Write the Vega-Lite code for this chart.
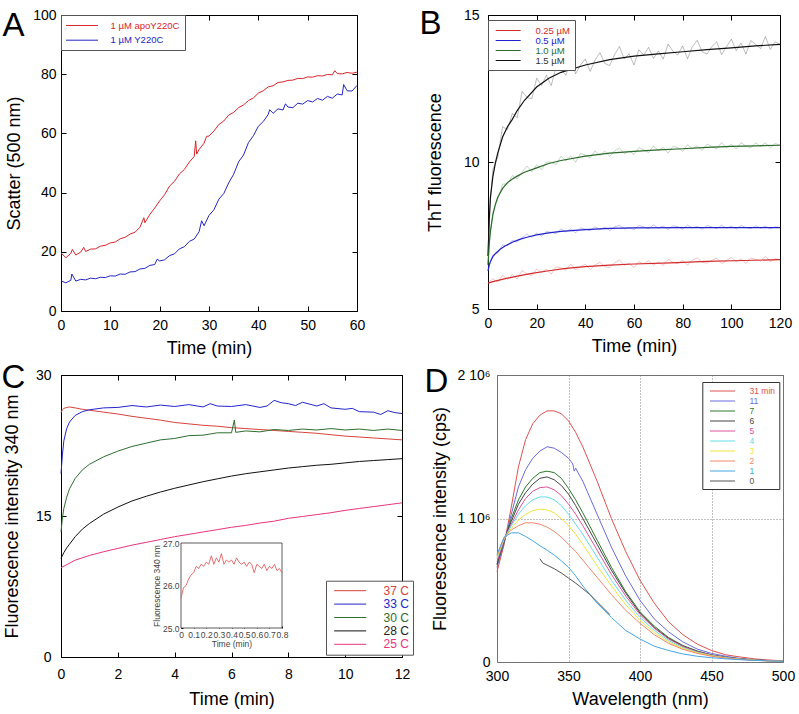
{
"$schema": "https://vega.github.io/schema/vega-lite/v6.json",
"background": "white",
"padding": {"left": 0, "top": 6, "right": 0, "bottom": 0},
"spacing": 2,
"resolve": {"scale": {"color": "independent"}},
"datasets": {
"a": [
{"s":"1 µM apoY220C","t":0,"v":19.6},{"s":"1 µM apoY220C","t":1,"v":18.0},{"s":"1 µM apoY220C","t":2,"v":19.5},{"s":"1 µM apoY220C","t":2.3,"v":20.8},{"s":"1 µM apoY220C","t":3,"v":18.9},{"s":"1 µM apoY220C","t":4,"v":19.9},{"s":"1 µM apoY220C","t":4.6,"v":21.5},{"s":"1 µM apoY220C","t":5,"v":20.1},{"s":"1 µM apoY220C","t":6,"v":20.9},{"s":"1 µM apoY220C","t":7,"v":21.0},{"s":"1 µM apoY220C","t":8,"v":21.9},{"s":"1 µM apoY220C","t":9,"v":22.2},{"s":"1 µM apoY220C","t":10,"v":23.0},{"s":"1 µM apoY220C","t":11,"v":23.3},{"s":"1 µM apoY220C","t":12,"v":24.4},{"s":"1 µM apoY220C","t":13,"v":24.9},{"s":"1 µM apoY220C","t":14,"v":26.0},{"s":"1 µM apoY220C","t":15,"v":26.6},{"s":"1 µM apoY220C","t":16,"v":28.3},{"s":"1 µM apoY220C","t":16.8,"v":31.5},{"s":"1 µM apoY220C","t":17,"v":29.8},{"s":"1 µM apoY220C","t":18,"v":32.6},{"s":"1 µM apoY220C","t":19,"v":34.8},{"s":"1 µM apoY220C","t":20,"v":37.2},{"s":"1 µM apoY220C","t":21,"v":39.3},{"s":"1 µM apoY220C","t":22,"v":42.2},{"s":"1 µM apoY220C","t":23,"v":43.8},{"s":"1 µM apoY220C","t":24,"v":46.3},{"s":"1 µM apoY220C","t":25,"v":47.8},{"s":"1 µM apoY220C","t":26,"v":50.3},{"s":"1 µM apoY220C","t":27,"v":52.2},{"s":"1 µM apoY220C","t":27.3,"v":57.5},{"s":"1 µM apoY220C","t":27.5,"v":53.0},{"s":"1 µM apoY220C","t":28,"v":54.6},{"s":"1 µM apoY220C","t":29,"v":56.7},{"s":"1 µM apoY220C","t":29.5,"v":59.0},{"s":"1 µM apoY220C","t":30,"v":59.1},{"s":"1 µM apoY220C","t":31,"v":60.8},{"s":"1 µM apoY220C","t":32,"v":63.0},{"s":"1 µM apoY220C","t":33,"v":64.2},{"s":"1 µM apoY220C","t":34,"v":66.2},{"s":"1 µM apoY220C","t":35,"v":67.1},{"s":"1 µM apoY220C","t":36,"v":68.7},{"s":"1 µM apoY220C","t":37,"v":69.6},{"s":"1 µM apoY220C","t":38,"v":71.1},{"s":"1 µM apoY220C","t":39,"v":72.0},{"s":"1 µM apoY220C","t":40,"v":73.6},{"s":"1 µM apoY220C","t":41,"v":74.4},{"s":"1 µM apoY220C","t":42,"v":75.7},{"s":"1 µM apoY220C","t":43,"v":76.1},{"s":"1 µM apoY220C","t":44,"v":77.2},{"s":"1 µM apoY220C","t":45,"v":77.4},{"s":"1 µM apoY220C","t":46,"v":77.9},{"s":"1 µM apoY220C","t":47,"v":78.0},{"s":"1 µM apoY220C","t":48,"v":78.6},{"s":"1 µM apoY220C","t":49,"v":78.5},{"s":"1 µM apoY220C","t":50,"v":79.1},{"s":"1 µM apoY220C","t":51,"v":79.0},{"s":"1 µM apoY220C","t":52,"v":79.5},{"s":"1 µM apoY220C","t":53,"v":79.4},{"s":"1 µM apoY220C","t":54,"v":79.9},{"s":"1 µM apoY220C","t":55,"v":79.8},{"s":"1 µM apoY220C","t":55.5,"v":81.2},{"s":"1 µM apoY220C","t":56,"v":80.2},{"s":"1 µM apoY220C","t":57,"v":80.1},{"s":"1 µM apoY220C","t":58,"v":80.6},{"s":"1 µM apoY220C","t":59,"v":80.3},{"s":"1 µM apoY220C","t":60,"v":80.7},
{"s":"1 µM Y220C","t":0,"v":10.2},{"s":"1 µM Y220C","t":1,"v":9.5},{"s":"1 µM Y220C","t":2,"v":10.4},{"s":"1 µM Y220C","t":2.2,"v":12.5},{"s":"1 µM Y220C","t":3,"v":10.1},{"s":"1 µM Y220C","t":4,"v":10.7},{"s":"1 µM Y220C","t":5,"v":10.5},{"s":"1 µM Y220C","t":6,"v":11.1},{"s":"1 µM Y220C","t":7,"v":10.9},{"s":"1 µM Y220C","t":8,"v":11.4},{"s":"1 µM Y220C","t":9,"v":11.3},{"s":"1 µM Y220C","t":10,"v":11.9},{"s":"1 µM Y220C","t":11,"v":11.8},{"s":"1 µM Y220C","t":12,"v":12.5},{"s":"1 µM Y220C","t":13,"v":12.4},{"s":"1 µM Y220C","t":14,"v":13.2},{"s":"1 µM Y220C","t":15,"v":13.3},{"s":"1 µM Y220C","t":16,"v":14.2},{"s":"1 µM Y220C","t":17,"v":14.4},{"s":"1 µM Y220C","t":18,"v":15.4},{"s":"1 µM Y220C","t":19,"v":15.7},{"s":"1 µM Y220C","t":19.5,"v":17.5},{"s":"1 µM Y220C","t":20,"v":16.9},{"s":"1 µM Y220C","t":21,"v":17.3},{"s":"1 µM Y220C","t":22,"v":18.7},{"s":"1 µM Y220C","t":23,"v":19.3},{"s":"1 µM Y220C","t":24,"v":21.0},{"s":"1 µM Y220C","t":25,"v":21.7},{"s":"1 µM Y220C","t":26,"v":23.5},{"s":"1 µM Y220C","t":27,"v":24.3},{"s":"1 µM Y220C","t":28,"v":26.8},{"s":"1 µM Y220C","t":28.5,"v":30.5},{"s":"1 µM Y220C","t":29,"v":28.8},{"s":"1 µM Y220C","t":30,"v":32.3},{"s":"1 µM Y220C","t":31,"v":34.2},{"s":"1 µM Y220C","t":32,"v":37.8},{"s":"1 µM Y220C","t":33,"v":39.7},{"s":"1 µM Y220C","t":34,"v":43.3},{"s":"1 µM Y220C","t":35,"v":46.2},{"s":"1 µM Y220C","t":36,"v":50.4},{"s":"1 µM Y220C","t":37,"v":52.7},{"s":"1 µM Y220C","t":38,"v":56.9},{"s":"1 µM Y220C","t":39,"v":59.2},{"s":"1 µM Y220C","t":40,"v":62.4},{"s":"1 µM Y220C","t":41,"v":64.0},{"s":"1 µM Y220C","t":42,"v":66.4},{"s":"1 µM Y220C","t":42.3,"v":68.0},{"s":"1 µM Y220C","t":43,"v":66.8},{"s":"1 µM Y220C","t":44,"v":68.3},{"s":"1 µM Y220C","t":45,"v":67.9},{"s":"1 µM Y220C","t":45.5,"v":70.0},{"s":"1 µM Y220C","t":46,"v":68.9},{"s":"1 µM Y220C","t":47,"v":68.7},{"s":"1 µM Y220C","t":48,"v":70.2},{"s":"1 µM Y220C","t":49,"v":69.9},{"s":"1 µM Y220C","t":50,"v":71.1},{"s":"1 µM Y220C","t":51,"v":70.6},{"s":"1 µM Y220C","t":52,"v":71.8},{"s":"1 µM Y220C","t":53,"v":71.2},{"s":"1 µM Y220C","t":54,"v":72.5},{"s":"1 µM Y220C","t":55,"v":71.9},{"s":"1 µM Y220C","t":56,"v":73.3},{"s":"1 µM Y220C","t":57,"v":73.0},{"s":"1 µM Y220C","t":57.3,"v":76.5},{"s":"1 µM Y220C","t":58,"v":74.4},{"s":"1 µM Y220C","t":59,"v":74.3},{"s":"1 µM Y220C","t":60,"v":76.2}
],
"bn": [
{"s":"1.5 µM","t":0,"v":6.8},{"s":"1.5 µM","t":0.5,"v":8.1},{"s":"1.5 µM","t":1,"v":8.7},{"s":"1.5 µM","t":2,"v":9.75},{"s":"1.5 µM","t":4,"v":10.15},{"s":"1.5 µM","t":6,"v":11.2},{"s":"1.5 µM","t":8,"v":11.1},{"s":"1.5 µM","t":10,"v":11.65},{"s":"1.5 µM","t":12,"v":11.5},{"s":"1.5 µM","t":14,"v":12.4},{"s":"1.5 µM","t":16,"v":12.2},{"s":"1.5 µM","t":18,"v":12.15},{"s":"1.5 µM","t":20,"v":12.85},{"s":"1.5 µM","t":22,"v":12.6},{"s":"1.5 µM","t":24,"v":12.95},{"s":"1.5 µM","t":26,"v":12.6},{"s":"1.5 µM","t":28,"v":13.25},{"s":"1.5 µM","t":30,"v":13.15},{"s":"1.5 µM","t":32,"v":12.95},{"s":"1.5 µM","t":34,"v":13.5},{"s":"1.5 µM","t":36,"v":13.0},{"s":"1.5 µM","t":38,"v":13.3},{"s":"1.5 µM","t":40,"v":13.5},{"s":"1.5 µM","t":42,"v":13.08},{"s":"1.5 µM","t":44,"v":13.47},{"s":"1.5 µM","t":46,"v":13.72},{"s":"1.5 µM","t":48,"v":13.35},{"s":"1.5 µM","t":50,"v":13.28},{"s":"1.5 µM","t":52,"v":13.65},{"s":"1.5 µM","t":54,"v":13.93},{"s":"1.5 µM","t":56,"v":13.5},{"s":"1.5 µM","t":58,"v":13.68},{"s":"1.5 µM","t":60,"v":13.3},{"s":"1.5 µM","t":62,"v":13.82},{"s":"1.5 µM","t":64,"v":13.63},{"s":"1.5 µM","t":66,"v":13.9},{"s":"1.5 µM","t":68,"v":13.52},{"s":"1.5 µM","t":70,"v":13.78},{"s":"1.5 µM","t":72,"v":13.5},{"s":"1.5 µM","t":74,"v":14.01},{"s":"1.5 µM","t":76,"v":13.77},{"s":"1.5 µM","t":78,"v":13.64},{"s":"1.5 µM","t":80,"v":13.95},{"s":"1.5 µM","t":82,"v":13.51},{"s":"1.5 µM","t":84,"v":13.93},{"s":"1.5 µM","t":86,"v":14.14},{"s":"1.5 µM","t":88,"v":13.75},{"s":"1.5 µM","t":90,"v":13.67},{"s":"1.5 µM","t":92,"v":13.93},{"s":"1.5 µM","t":94,"v":14.09},{"s":"1.5 µM","t":96,"v":13.65},{"s":"1.5 µM","t":98,"v":13.92},{"s":"1.5 µM","t":100,"v":14.18},{"s":"1.5 µM","t":102,"v":13.79},{"s":"1.5 µM","t":104,"v":14.05},{"s":"1.5 µM","t":106,"v":13.67},{"s":"1.5 µM","t":108,"v":14.13},{"s":"1.5 µM","t":110,"v":14.0},{"s":"1.5 µM","t":112,"v":13.86},{"s":"1.5 µM","t":114,"v":14.27},{"s":"1.5 µM","t":116,"v":13.83},{"s":"1.5 µM","t":118,"v":14.09},{"s":"1.5 µM","t":120,"v":14.0},
{"s":"1.0 µM","t":0,"v":6.5},{"s":"1.0 µM","t":0.5,"v":7.25},{"s":"1.0 µM","t":1,"v":7.6},{"s":"1.0 µM","t":2,"v":8.3},{"s":"1.0 µM","t":4,"v":8.72},{"s":"1.0 µM","t":6,"v":9.25},{"s":"1.0 µM","t":8,"v":9.25},{"s":"1.0 µM","t":10,"v":9.54},{"s":"1.0 µM","t":12,"v":9.42},{"s":"1.0 µM","t":14,"v":9.66},{"s":"1.0 µM","t":16,"v":9.86},{"s":"1.0 µM","t":18,"v":9.67},{"s":"1.0 µM","t":20,"v":9.9},{"s":"1.0 µM","t":22,"v":9.74},{"s":"1.0 µM","t":24,"v":10.0},{"s":"1.0 µM","t":26,"v":9.99},{"s":"1.0 µM","t":28,"v":9.91},{"s":"1.0 µM","t":30,"v":10.2},{"s":"1.0 µM","t":32,"v":10.03},{"s":"1.0 µM","t":34,"v":10.21},{"s":"1.0 µM","t":36,"v":9.99},{"s":"1.0 µM","t":38,"v":10.29},{"s":"1.0 µM","t":40,"v":10.23},{"s":"1.0 µM","t":42,"v":10.14},{"s":"1.0 µM","t":44,"v":10.38},{"s":"1.0 µM","t":46,"v":10.22},{"s":"1.0 µM","t":48,"v":10.37},{"s":"1.0 µM","t":50,"v":10.19},{"s":"1.0 µM","t":52,"v":10.37},{"s":"1.0 µM","t":54,"v":10.48},{"s":"1.0 µM","t":56,"v":10.28},{"s":"1.0 µM","t":58,"v":10.37},{"s":"1.0 µM","t":60,"v":10.26},{"s":"1.0 µM","t":62,"v":10.49},{"s":"1.0 µM","t":64,"v":10.42},{"s":"1.0 µM","t":66,"v":10.32},{"s":"1.0 µM","t":68,"v":10.55},{"s":"1.0 µM","t":70,"v":10.38},{"s":"1.0 µM","t":72,"v":10.5},{"s":"1.0 µM","t":74,"v":10.3},{"s":"1.0 µM","t":76,"v":10.53},{"s":"1.0 µM","t":78,"v":10.49},{"s":"1.0 µM","t":80,"v":10.36},{"s":"1.0 µM","t":82,"v":10.59},{"s":"1.0 µM","t":84,"v":10.45},{"s":"1.0 µM","t":86,"v":10.55},{"s":"1.0 µM","t":88,"v":10.39},{"s":"1.0 µM","t":90,"v":10.61},{"s":"1.0 µM","t":92,"v":10.53},{"s":"1.0 µM","t":94,"v":10.45},{"s":"1.0 µM","t":96,"v":10.66},{"s":"1.0 µM","t":98,"v":10.48},{"s":"1.0 µM","t":100,"v":10.61},{"s":"1.0 µM","t":102,"v":10.44},{"s":"1.0 µM","t":104,"v":10.66},{"s":"1.0 µM","t":106,"v":10.54},{"s":"1.0 µM","t":108,"v":10.48},{"s":"1.0 µM","t":110,"v":10.65},{"s":"1.0 µM","t":112,"v":10.53},{"s":"1.0 µM","t":114,"v":10.65},{"s":"1.0 µM","t":116,"v":10.48},{"s":"1.0 µM","t":118,"v":10.63},{"s":"1.0 µM","t":120,"v":10.57},
{"s":"0.5 µM","t":0,"v":6.3},{"s":"0.5 µM","t":2,"v":6.84},{"s":"0.5 µM","t":4,"v":6.91},{"s":"0.5 µM","t":6,"v":7.18},{"s":"0.5 µM","t":8,"v":7.15},{"s":"0.5 µM","t":10,"v":7.34},{"s":"0.5 µM","t":12,"v":7.28},{"s":"0.5 µM","t":14,"v":7.43},{"s":"0.5 µM","t":16,"v":7.55},{"s":"0.5 µM","t":18,"v":7.44},{"s":"0.5 µM","t":20,"v":7.58},{"s":"0.5 µM","t":22,"v":7.48},{"s":"0.5 µM","t":24,"v":7.63},{"s":"0.5 µM","t":26,"v":7.61},{"s":"0.5 µM","t":28,"v":7.56},{"s":"0.5 µM","t":30,"v":7.73},{"s":"0.5 µM","t":32,"v":7.62},{"s":"0.5 µM","t":34,"v":7.73},{"s":"0.5 µM","t":36,"v":7.59},{"s":"0.5 µM","t":38,"v":7.76},{"s":"0.5 µM","t":40,"v":7.72},{"s":"0.5 µM","t":42,"v":7.66},{"s":"0.5 µM","t":44,"v":7.8},{"s":"0.5 µM","t":46,"v":7.7},{"s":"0.5 µM","t":48,"v":7.79},{"s":"0.5 µM","t":50,"v":7.67},{"s":"0.5 µM","t":52,"v":7.79},{"s":"0.5 µM","t":54,"v":7.85},{"s":"0.5 µM","t":56,"v":7.72},{"s":"0.5 µM","t":58,"v":7.77},{"s":"0.5 µM","t":60,"v":7.7},{"s":"0.5 µM","t":62,"v":7.84},{"s":"0.5 µM","t":64,"v":7.79},{"s":"0.5 µM","t":66,"v":7.73},{"s":"0.5 µM","t":68,"v":7.86},{"s":"0.5 µM","t":70,"v":7.75},{"s":"0.5 µM","t":72,"v":7.82},{"s":"0.5 µM","t":74,"v":7.7},{"s":"0.5 µM","t":76,"v":7.83},{"s":"0.5 µM","t":78,"v":7.8},{"s":"0.5 µM","t":80,"v":7.72},{"s":"0.5 µM","t":82,"v":7.85},{"s":"0.5 µM","t":84,"v":7.76},{"s":"0.5 µM","t":86,"v":7.81},{"s":"0.5 µM","t":88,"v":7.71},{"s":"0.5 µM","t":90,"v":7.84},{"s":"0.5 µM","t":92,"v":7.79},{"s":"0.5 µM","t":94,"v":7.73},{"s":"0.5 µM","t":96,"v":7.85},{"s":"0.5 µM","t":98,"v":7.75},{"s":"0.5 µM","t":100,"v":7.82},{"s":"0.5 µM","t":102,"v":7.72},{"s":"0.5 µM","t":104,"v":7.84},{"s":"0.5 µM","t":106,"v":7.77},{"s":"0.5 µM","t":108,"v":7.73},{"s":"0.5 µM","t":110,"v":7.83},{"s":"0.5 µM","t":112,"v":7.75},{"s":"0.5 µM","t":114,"v":7.82},{"s":"0.5 µM","t":116,"v":7.72},{"s":"0.5 µM","t":118,"v":7.8},{"s":"0.5 µM","t":120,"v":7.77},
{"s":"0.25 µM","t":0,"v":5.88},{"s":"0.25 µM","t":2,"v":6.03},{"s":"0.25 µM","t":4,"v":5.91},{"s":"0.25 µM","t":6,"v":6.15},{"s":"0.25 µM","t":8,"v":6.01},{"s":"0.25 µM","t":10,"v":6.17},{"s":"0.25 µM","t":12,"v":6.02},{"s":"0.25 µM","t":14,"v":6.31},{"s":"0.25 µM","t":16,"v":6.2},{"s":"0.25 µM","t":18,"v":6.13},{"s":"0.25 µM","t":20,"v":6.36},{"s":"0.25 µM","t":22,"v":6.25},{"s":"0.25 µM","t":24,"v":6.35},{"s":"0.25 µM","t":26,"v":6.19},{"s":"0.25 µM","t":28,"v":6.44},{"s":"0.25 µM","t":30,"v":6.4},{"s":"0.25 µM","t":32,"v":6.32},{"s":"0.25 µM","t":34,"v":6.53},{"s":"0.25 µM","t":36,"v":6.33},{"s":"0.25 µM","t":38,"v":6.44},{"s":"0.25 µM","t":40,"v":6.52},{"s":"0.25 µM","t":42,"v":6.35},{"s":"0.25 µM","t":44,"v":6.5},{"s":"0.25 µM","t":46,"v":6.59},{"s":"0.25 µM","t":48,"v":6.44},{"s":"0.25 µM","t":50,"v":6.41},{"s":"0.25 µM","t":52,"v":6.56},{"s":"0.25 µM","t":54,"v":6.67},{"s":"0.25 µM","t":56,"v":6.49},{"s":"0.25 µM","t":58,"v":6.56},{"s":"0.25 µM","t":60,"v":6.41},{"s":"0.25 µM","t":62,"v":6.61},{"s":"0.25 µM","t":64,"v":6.54},{"s":"0.25 µM","t":66,"v":6.64},{"s":"0.25 µM","t":68,"v":6.49},{"s":"0.25 µM","t":70,"v":6.6},{"s":"0.25 µM","t":72,"v":6.48},{"s":"0.25 µM","t":74,"v":6.69},{"s":"0.25 µM","t":76,"v":6.59},{"s":"0.25 µM","t":78,"v":6.54},{"s":"0.25 µM","t":80,"v":6.66},{"s":"0.25 µM","t":82,"v":6.49},{"s":"0.25 µM","t":84,"v":6.66},{"s":"0.25 µM","t":86,"v":6.74},{"s":"0.25 µM","t":88,"v":6.59},{"s":"0.25 µM","t":90,"v":6.56},{"s":"0.25 µM","t":92,"v":6.66},{"s":"0.25 µM","t":94,"v":6.73},{"s":"0.25 µM","t":96,"v":6.55},{"s":"0.25 µM","t":98,"v":6.65},{"s":"0.25 µM","t":100,"v":6.76},{"s":"0.25 µM","t":102,"v":6.6},{"s":"0.25 µM","t":104,"v":6.71},{"s":"0.25 µM","t":106,"v":6.55},{"s":"0.25 µM","t":108,"v":6.74},{"s":"0.25 µM","t":110,"v":6.68},{"s":"0.25 µM","t":112,"v":6.63},{"s":"0.25 µM","t":114,"v":6.79},{"s":"0.25 µM","t":116,"v":6.61},{"s":"0.25 µM","t":118,"v":6.71},{"s":"0.25 µM","t":120,"v":6.68}
],
"bf": [
{"s":"1.5 µM","t":0,"v":6.8},{"s":"1.5 µM","t":0.5,"v":8.0},{"s":"1.5 µM","t":1,"v":8.8},{"s":"1.5 µM","t":2,"v":9.5},{"s":"1.5 µM","t":3,"v":9.95},{"s":"1.5 µM","t":4,"v":10.3},{"s":"1.5 µM","t":6,"v":10.85},{"s":"1.5 µM","t":8,"v":11.2},{"s":"1.5 µM","t":10,"v":11.45},{"s":"1.5 µM","t":12,"v":11.75},{"s":"1.5 µM","t":15,"v":12.1},{"s":"1.5 µM","t":20,"v":12.55},{"s":"1.5 µM","t":25,"v":12.85},{"s":"1.5 µM","t":30,"v":13.05},{"s":"1.5 µM","t":40,"v":13.3},{"s":"1.5 µM","t":50,"v":13.48},{"s":"1.5 µM","t":60,"v":13.6},{"s":"1.5 µM","t":70,"v":13.68},{"s":"1.5 µM","t":80,"v":13.75},{"s":"1.5 µM","t":90,"v":13.82},{"s":"1.5 µM","t":100,"v":13.88},{"s":"1.5 µM","t":110,"v":13.95},{"s":"1.5 µM","t":120,"v":14.0},
{"s":"1.0 µM","t":0,"v":6.5},{"s":"1.0 µM","t":0.5,"v":7.2},{"s":"1.0 µM","t":1,"v":7.65},{"s":"1.0 µM","t":2,"v":8.2},{"s":"1.0 µM","t":3,"v":8.55},{"s":"1.0 µM","t":4,"v":8.8},{"s":"1.0 µM","t":6,"v":9.1},{"s":"1.0 µM","t":8,"v":9.3},{"s":"1.0 µM","t":10,"v":9.42},{"s":"1.0 µM","t":12,"v":9.52},{"s":"1.0 µM","t":15,"v":9.65},{"s":"1.0 µM","t":20,"v":9.8},{"s":"1.0 µM","t":25,"v":9.95},{"s":"1.0 µM","t":30,"v":10.05},{"s":"1.0 µM","t":40,"v":10.2},{"s":"1.0 µM","t":50,"v":10.3},{"s":"1.0 µM","t":60,"v":10.36},{"s":"1.0 µM","t":70,"v":10.41},{"s":"1.0 µM","t":80,"v":10.45},{"s":"1.0 µM","t":90,"v":10.5},{"s":"1.0 µM","t":100,"v":10.53},{"s":"1.0 µM","t":110,"v":10.55},{"s":"1.0 µM","t":120,"v":10.57},
{"s":"0.5 µM","t":0,"v":6.3},{"s":"0.5 µM","t":0.5,"v":6.5},{"s":"0.5 µM","t":1,"v":6.62},{"s":"0.5 µM","t":2,"v":6.78},{"s":"0.5 µM","t":3,"v":6.88},{"s":"0.5 µM","t":5,"v":7.03},{"s":"0.5 µM","t":7,"v":7.14},{"s":"0.5 µM","t":10,"v":7.27},{"s":"0.5 µM","t":13,"v":7.37},{"s":"0.5 µM","t":16,"v":7.44},{"s":"0.5 µM","t":20,"v":7.52},{"s":"0.5 µM","t":25,"v":7.59},{"s":"0.5 µM","t":30,"v":7.64},{"s":"0.5 µM","t":40,"v":7.7},{"s":"0.5 µM","t":50,"v":7.74},{"s":"0.5 µM","t":60,"v":7.76},{"s":"0.5 µM","t":80,"v":7.77},{"s":"0.5 µM","t":100,"v":7.77},{"s":"0.5 µM","t":120,"v":7.77},
{"s":"0.25 µM","t":0,"v":5.88},{"s":"0.25 µM","t":2,"v":5.93},{"s":"0.25 µM","t":5,"v":5.99},{"s":"0.25 µM","t":8,"v":6.05},{"s":"0.25 µM","t":12,"v":6.12},{"s":"0.25 µM","t":18,"v":6.21},{"s":"0.25 µM","t":25,"v":6.3},{"s":"0.25 µM","t":32,"v":6.38},{"s":"0.25 µM","t":40,"v":6.44},{"s":"0.25 µM","t":50,"v":6.49},{"s":"0.25 µM","t":60,"v":6.53},{"s":"0.25 µM","t":75,"v":6.57},{"s":"0.25 µM","t":90,"v":6.62},{"s":"0.25 µM","t":105,"v":6.65},{"s":"0.25 µM","t":120,"v":6.68}
],
"c": [
{"s":"37 C","t":0,"v":26.0},{"s":"37 C","t":0.05,"v":26.3},{"s":"37 C","t":0.1,"v":26.45},{"s":"37 C","t":0.2,"v":26.55},{"s":"37 C","t":0.3,"v":26.6},{"s":"37 C","t":0.5,"v":26.5},{"s":"37 C","t":0.75,"v":26.35},{"s":"37 C","t":1,"v":26.25},{"s":"37 C","t":1.5,"v":26.05},{"s":"37 C","t":2,"v":25.85},{"s":"37 C","t":2.5,"v":25.6},{"s":"37 C","t":3,"v":25.4},{"s":"37 C","t":3.5,"v":25.2},{"s":"37 C","t":4,"v":24.95},{"s":"37 C","t":4.5,"v":24.8},{"s":"37 C","t":5,"v":24.65},{"s":"37 C","t":5.5,"v":24.55},{"s":"37 C","t":6,"v":24.4},{"s":"37 C","t":6.5,"v":24.3},{"s":"37 C","t":7,"v":24.2},{"s":"37 C","t":7.5,"v":24.1},{"s":"37 C","t":8,"v":24.0},{"s":"37 C","t":8.5,"v":23.9},{"s":"37 C","t":9,"v":23.8},{"s":"37 C","t":9.5,"v":23.65},{"s":"37 C","t":10,"v":23.5},{"s":"37 C","t":10.5,"v":23.4},{"s":"37 C","t":11,"v":23.3},{"s":"37 C","t":11.5,"v":23.2},{"s":"37 C","t":12,"v":23.1},
{"s":"33 C","t":0,"v":19.5},{"s":"33 C","t":0.05,"v":21.5},{"s":"33 C","t":0.1,"v":23.0},{"s":"33 C","t":0.2,"v":24.3},{"s":"33 C","t":0.3,"v":25.0},{"s":"33 C","t":0.5,"v":25.7},{"s":"33 C","t":0.75,"v":26.1},{"s":"33 C","t":1,"v":26.3},{"s":"33 C","t":1.5,"v":26.5},{"s":"33 C","t":2,"v":26.55},{"s":"33 C","t":2.5,"v":26.75},{"s":"33 C","t":3,"v":26.6},{"s":"33 C","t":3.5,"v":26.8},{"s":"33 C","t":4,"v":26.65},{"s":"33 C","t":4.5,"v":26.85},{"s":"33 C","t":5,"v":26.6},{"s":"33 C","t":5.25,"v":26.95},{"s":"33 C","t":5.5,"v":26.7},{"s":"33 C","t":6,"v":26.65},{"s":"33 C","t":6.5,"v":26.85},{"s":"33 C","t":7,"v":26.55},{"s":"33 C","t":7.25,"v":26.7},{"s":"33 C","t":7.5,"v":27.3},{"s":"33 C","t":7.75,"v":27.05},{"s":"33 C","t":8,"v":26.95},{"s":"33 C","t":8.25,"v":26.75},{"s":"33 C","t":8.5,"v":27.1},{"s":"33 C","t":9,"v":26.7},{"s":"33 C","t":9.25,"v":26.95},{"s":"33 C","t":9.5,"v":26.5},{"s":"33 C","t":10,"v":26.35},{"s":"33 C","t":10.25,"v":26.45},{"s":"33 C","t":10.5,"v":26.1},{"s":"33 C","t":11,"v":26.05},{"s":"33 C","t":11.25,"v":25.8},{"s":"33 C","t":11.5,"v":26.2},{"s":"33 C","t":11.75,"v":26.0},{"s":"33 C","t":12,"v":25.9},
{"s":"30 C","t":0,"v":13.3},{"s":"30 C","t":0.05,"v":14.8},{"s":"30 C","t":0.1,"v":15.8},{"s":"30 C","t":0.2,"v":17.0},{"s":"30 C","t":0.3,"v":17.9},{"s":"30 C","t":0.5,"v":19.0},{"s":"30 C","t":0.75,"v":19.9},{"s":"30 C","t":1,"v":20.5},{"s":"30 C","t":1.5,"v":21.3},{"s":"30 C","t":2,"v":21.9},{"s":"30 C","t":2.5,"v":22.4},{"s":"30 C","t":3,"v":22.75},{"s":"30 C","t":3.5,"v":23.1},{"s":"30 C","t":4,"v":23.25},{"s":"30 C","t":4.5,"v":23.55},{"s":"30 C","t":5,"v":23.6},{"s":"30 C","t":5.5,"v":23.85},{"s":"30 C","t":6,"v":23.85},{"s":"30 C","t":6.1,"v":25.2},{"s":"30 C","t":6.15,"v":23.9},{"s":"30 C","t":6.5,"v":24.05},{"s":"30 C","t":7,"v":23.95},{"s":"30 C","t":7.5,"v":24.2},{"s":"30 C","t":8,"v":24.1},{"s":"30 C","t":8.5,"v":24.25},{"s":"30 C","t":9,"v":24.15},{"s":"30 C","t":9.5,"v":24.3},{"s":"30 C","t":10,"v":24.15},{"s":"30 C","t":10.5,"v":24.25},{"s":"30 C","t":11,"v":24.1},{"s":"30 C","t":11.5,"v":24.25},{"s":"30 C","t":12,"v":24.1},
{"s":"28 C","t":0,"v":10.5},{"s":"28 C","t":0.1,"v":11.1},{"s":"28 C","t":0.2,"v":11.6},{"s":"28 C","t":0.3,"v":12.0},{"s":"28 C","t":0.5,"v":12.8},{"s":"28 C","t":0.75,"v":13.6},{"s":"28 C","t":1,"v":14.2},{"s":"28 C","t":1.5,"v":15.2},{"s":"28 C","t":2,"v":15.95},{"s":"28 C","t":2.5,"v":16.6},{"s":"28 C","t":3,"v":17.1},{"s":"28 C","t":3.5,"v":17.55},{"s":"28 C","t":4,"v":17.95},{"s":"28 C","t":4.5,"v":18.3},{"s":"28 C","t":5,"v":18.65},{"s":"28 C","t":5.5,"v":18.95},{"s":"28 C","t":6,"v":19.25},{"s":"28 C","t":6.5,"v":19.5},{"s":"28 C","t":7,"v":19.7},{"s":"28 C","t":7.5,"v":19.9},{"s":"28 C","t":8,"v":20.1},{"s":"28 C","t":8.5,"v":20.25},{"s":"28 C","t":9,"v":20.4},{"s":"28 C","t":9.5,"v":20.5},{"s":"28 C","t":10,"v":20.65},{"s":"28 C","t":10.5,"v":20.8},{"s":"28 C","t":11,"v":20.9},{"s":"28 C","t":11.5,"v":21.0},{"s":"28 C","t":12,"v":21.1},
{"s":"25 C","t":0,"v":9.5},{"s":"25 C","t":0.5,"v":10.3},{"s":"25 C","t":1,"v":10.8},{"s":"25 C","t":1.5,"v":11.2},{"s":"25 C","t":2,"v":11.55},{"s":"25 C","t":2.5,"v":11.9},{"s":"25 C","t":3,"v":12.2},{"s":"25 C","t":3.5,"v":12.5},{"s":"25 C","t":4,"v":12.8},{"s":"25 C","t":4.5,"v":13.05},{"s":"25 C","t":5,"v":13.3},{"s":"25 C","t":5.5,"v":13.55},{"s":"25 C","t":6,"v":13.8},{"s":"25 C","t":6.5,"v":14.0},{"s":"25 C","t":7,"v":14.25},{"s":"25 C","t":7.5,"v":14.45},{"s":"25 C","t":8,"v":14.75},{"s":"25 C","t":8.5,"v":14.95},{"s":"25 C","t":9,"v":15.15},{"s":"25 C","t":9.5,"v":15.35},{"s":"25 C","t":10,"v":15.6},{"s":"25 C","t":10.5,"v":15.8},{"s":"25 C","t":11,"v":16.0},{"s":"25 C","t":11.5,"v":16.2},{"s":"25 C","t":12,"v":16.4}
],
"ci": [
{"t":0,"v":25.7},{"t":0.02,"v":25.95},{"t":0.04,"v":26.0},{"t":0.06,"v":26.15},{"t":0.08,"v":26.25},{"t":0.1,"v":26.3},{"t":0.12,"v":26.45},{"t":0.14,"v":26.4},{"t":0.16,"v":26.5},{"t":0.18,"v":26.45},{"t":0.2,"v":26.55},{"t":0.22,"v":26.5},{"t":0.24,"v":26.7},{"t":0.26,"v":26.5},{"t":0.28,"v":26.65},{"t":0.3,"v":26.55},{"t":0.32,"v":26.75},{"t":0.34,"v":26.5},{"t":0.36,"v":26.6},{"t":0.38,"v":26.55},{"t":0.4,"v":26.6},{"t":0.42,"v":26.5},{"t":0.44,"v":26.65},{"t":0.46,"v":26.55},{"t":0.48,"v":26.5},{"t":0.5,"v":26.55},{"t":0.52,"v":26.45},{"t":0.54,"v":26.55},{"t":0.56,"v":26.5},{"t":0.58,"v":26.3},{"t":0.6,"v":26.5},{"t":0.62,"v":26.45},{"t":0.64,"v":26.4},{"t":0.66,"v":26.5},{"t":0.68,"v":26.35},{"t":0.7,"v":26.45},{"t":0.72,"v":26.4},{"t":0.74,"v":26.5},{"t":0.76,"v":26.35},{"t":0.78,"v":26.4},{"t":0.8,"v":26.3}
],
"cfr": [{"x0":0,"x1":0.8,"y0":25,"y1":27}],
"d": [
{"s":"31 min","w":300,"v":0.63},{"s":"31 min","w":305,"v":0.82},{"s":"31 min","w":310,"v":1.08},{"s":"31 min","w":315,"v":1.36},{"s":"31 min","w":320,"v":1.55},{"s":"31 min","w":325,"v":1.66},{"s":"31 min","w":330,"v":1.72},{"s":"31 min","w":335,"v":1.75},{"s":"31 min","w":340,"v":1.75},{"s":"31 min","w":345,"v":1.73},{"s":"31 min","w":350,"v":1.68},{"s":"31 min","w":355,"v":1.6},{"s":"31 min","w":360,"v":1.5},{"s":"31 min","w":370,"v":1.26},{"s":"31 min","w":380,"v":1.0},{"s":"31 min","w":390,"v":0.77},{"s":"31 min","w":400,"v":0.57},{"s":"31 min","w":410,"v":0.41},{"s":"31 min","w":420,"v":0.28},{"s":"31 min","w":430,"v":0.19},{"s":"31 min","w":440,"v":0.125},{"s":"31 min","w":450,"v":0.08},{"s":"31 min","w":460,"v":0.05},{"s":"31 min","w":470,"v":0.035},{"s":"31 min","w":480,"v":0.022},{"s":"31 min","w":490,"v":0.014},{"s":"31 min","w":500,"v":0.008},
{"s":"11","w":300,"v":0.66},{"s":"11","w":305,"v":0.83},{"s":"11","w":310,"v":1.03},{"s":"11","w":315,"v":1.22},{"s":"11","w":320,"v":1.34},{"s":"11","w":325,"v":1.42},{"s":"11","w":330,"v":1.47},{"s":"11","w":335,"v":1.5},{"s":"11","w":340,"v":1.49},{"s":"11","w":345,"v":1.46},{"s":"11","w":350,"v":1.42},{"s":"11","w":353,"v":1.38},{"s":"11","w":354,"v":1.33},{"s":"11","w":355,"v":1.35},{"s":"11","w":360,"v":1.26},{"s":"11","w":370,"v":1.03},{"s":"11","w":380,"v":0.8},{"s":"11","w":390,"v":0.6},{"s":"11","w":400,"v":0.43},{"s":"11","w":410,"v":0.3},{"s":"11","w":420,"v":0.21},{"s":"11","w":430,"v":0.14},{"s":"11","w":440,"v":0.09},{"s":"11","w":450,"v":0.06},{"s":"11","w":460,"v":0.04},{"s":"11","w":470,"v":0.025},{"s":"11","w":480,"v":0.016},{"s":"11","w":490,"v":0.01},{"s":"11","w":500,"v":0.006},
{"s":"7","w":300,"v":0.68},{"s":"7","w":305,"v":0.84},{"s":"7","w":310,"v":1.0},{"s":"7","w":315,"v":1.13},{"s":"7","w":320,"v":1.22},{"s":"7","w":325,"v":1.28},{"s":"7","w":330,"v":1.32},{"s":"7","w":335,"v":1.33},{"s":"7","w":340,"v":1.32},{"s":"7","w":345,"v":1.28},{"s":"7","w":350,"v":1.21},{"s":"7","w":355,"v":1.13},{"s":"7","w":360,"v":1.04},{"s":"7","w":370,"v":0.85},{"s":"7","w":380,"v":0.66},{"s":"7","w":390,"v":0.49},{"s":"7","w":400,"v":0.35},{"s":"7","w":410,"v":0.25},{"s":"7","w":420,"v":0.17},{"s":"7","w":430,"v":0.115},{"s":"7","w":440,"v":0.077},{"s":"7","w":450,"v":0.05},{"s":"7","w":460,"v":0.033},{"s":"7","w":470,"v":0.022},{"s":"7","w":480,"v":0.014},{"s":"7","w":490,"v":0.009},{"s":"7","w":500,"v":0.005},
{"s":"6","w":300,"v":0.68},{"s":"6","w":305,"v":0.85},{"s":"6","w":310,"v":0.98},{"s":"6","w":315,"v":1.1},{"s":"6","w":320,"v":1.18},{"s":"6","w":325,"v":1.24},{"s":"6","w":330,"v":1.28},{"s":"6","w":335,"v":1.29},{"s":"6","w":340,"v":1.27},{"s":"6","w":345,"v":1.23},{"s":"6","w":350,"v":1.17},{"s":"6","w":355,"v":1.09},{"s":"6","w":360,"v":1.0},{"s":"6","w":370,"v":0.82},{"s":"6","w":380,"v":0.64},{"s":"6","w":390,"v":0.48},{"s":"6","w":400,"v":0.34},{"s":"6","w":410,"v":0.24},{"s":"6","w":420,"v":0.165},{"s":"6","w":430,"v":0.11},{"s":"6","w":440,"v":0.074},{"s":"6","w":450,"v":0.049},{"s":"6","w":460,"v":0.032},{"s":"6","w":470,"v":0.021},{"s":"6","w":480,"v":0.014},{"s":"6","w":490,"v":0.009},{"s":"6","w":500,"v":0.005},
{"s":"5","w":300,"v":0.7},{"s":"5","w":305,"v":0.85},{"s":"5","w":310,"v":0.96},{"s":"5","w":315,"v":1.06},{"s":"5","w":320,"v":1.14},{"s":"5","w":325,"v":1.19},{"s":"5","w":330,"v":1.215},{"s":"5","w":335,"v":1.22},{"s":"5","w":340,"v":1.2},{"s":"5","w":345,"v":1.16},{"s":"5","w":350,"v":1.1},{"s":"5","w":355,"v":1.03},{"s":"5","w":360,"v":0.95},{"s":"5","w":370,"v":0.78},{"s":"5","w":380,"v":0.61},{"s":"5","w":390,"v":0.46},{"s":"5","w":400,"v":0.33},{"s":"5","w":410,"v":0.235},{"s":"5","w":420,"v":0.16},{"s":"5","w":430,"v":0.108},{"s":"5","w":440,"v":0.072},{"s":"5","w":450,"v":0.048},{"s":"5","w":460,"v":0.031},{"s":"5","w":470,"v":0.02},{"s":"5","w":480,"v":0.013},{"s":"5","w":490,"v":0.008},{"s":"5","w":500,"v":0.005},
{"s":"4","w":300,"v":0.72},{"s":"4","w":305,"v":0.86},{"s":"4","w":310,"v":0.95},{"s":"4","w":315,"v":1.03},{"s":"4","w":320,"v":1.09},{"s":"4","w":325,"v":1.13},{"s":"4","w":330,"v":1.15},{"s":"4","w":335,"v":1.15},{"s":"4","w":340,"v":1.13},{"s":"4","w":345,"v":1.09},{"s":"4","w":350,"v":1.03},{"s":"4","w":355,"v":0.96},{"s":"4","w":360,"v":0.89},{"s":"4","w":370,"v":0.73},{"s":"4","w":380,"v":0.57},{"s":"4","w":390,"v":0.43},{"s":"4","w":400,"v":0.31},{"s":"4","w":410,"v":0.22},{"s":"4","w":420,"v":0.15},{"s":"4","w":430,"v":0.1},{"s":"4","w":440,"v":0.068},{"s":"4","w":450,"v":0.045},{"s":"4","w":460,"v":0.03},{"s":"4","w":470,"v":0.02},{"s":"4","w":480,"v":0.013},{"s":"4","w":490,"v":0.008},{"s":"4","w":500,"v":0.005},
{"s":"3","w":300,"v":0.73},{"s":"3","w":305,"v":0.86},{"s":"3","w":310,"v":0.93},{"s":"3","w":315,"v":0.99},{"s":"3","w":320,"v":1.03},{"s":"3","w":325,"v":1.055},{"s":"3","w":330,"v":1.065},{"s":"3","w":335,"v":1.06},{"s":"3","w":340,"v":1.04},{"s":"3","w":345,"v":1.0},{"s":"3","w":350,"v":0.95},{"s":"3","w":355,"v":0.89},{"s":"3","w":360,"v":0.82},{"s":"3","w":370,"v":0.67},{"s":"3","w":380,"v":0.53},{"s":"3","w":390,"v":0.4},{"s":"3","w":400,"v":0.29},{"s":"3","w":410,"v":0.205},{"s":"3","w":420,"v":0.14},{"s":"3","w":430,"v":0.095},{"s":"3","w":440,"v":0.064},{"s":"3","w":450,"v":0.043},{"s":"3","w":460,"v":0.028},{"s":"3","w":470,"v":0.019},{"s":"3","w":480,"v":0.012},{"s":"3","w":490,"v":0.008},{"s":"3","w":500,"v":0.005},
{"s":"2","w":300,"v":0.74},{"s":"2","w":305,"v":0.87},{"s":"2","w":310,"v":0.92},{"s":"2","w":315,"v":0.95},{"s":"2","w":320,"v":0.97},{"s":"2","w":325,"v":0.97},{"s":"2","w":330,"v":0.96},{"s":"2","w":335,"v":0.94},{"s":"2","w":340,"v":0.91},{"s":"2","w":345,"v":0.87},{"s":"2","w":350,"v":0.82},{"s":"2","w":355,"v":0.77},{"s":"2","w":360,"v":0.71},{"s":"2","w":370,"v":0.59},{"s":"2","w":380,"v":0.47},{"s":"2","w":390,"v":0.36},{"s":"2","w":400,"v":0.27},{"s":"2","w":410,"v":0.19},{"s":"2","w":420,"v":0.13},{"s":"2","w":430,"v":0.088},{"s":"2","w":440,"v":0.06},{"s":"2","w":450,"v":0.04},{"s":"2","w":460,"v":0.027},{"s":"2","w":470,"v":0.018},{"s":"2","w":480,"v":0.012},{"s":"2","w":490,"v":0.008},{"s":"2","w":500,"v":0.005},
{"s":"1","w":300,"v":0.75},{"s":"1","w":305,"v":0.87},{"s":"1","w":310,"v":0.9},{"s":"1","w":315,"v":0.9},{"s":"1","w":320,"v":0.875},{"s":"1","w":325,"v":0.845},{"s":"1","w":330,"v":0.81},{"s":"1","w":335,"v":0.78},{"s":"1","w":340,"v":0.745},{"s":"1","w":345,"v":0.705},{"s":"1","w":350,"v":0.66},{"s":"1","w":355,"v":0.6},{"s":"1","w":360,"v":0.53},{"s":"1","w":370,"v":0.41},{"s":"1","w":380,"v":0.31},{"s":"1","w":390,"v":0.22},{"s":"1","w":400,"v":0.16},{"s":"1","w":410,"v":0.11},{"s":"1","w":420,"v":0.08},{"s":"1","w":430,"v":0.056},{"s":"1","w":440,"v":0.04},{"s":"1","w":450,"v":0.03},{"s":"1","w":460,"v":0.022},{"s":"1","w":470,"v":0.016},{"s":"1","w":480,"v":0.011},{"s":"1","w":490,"v":0.008},{"s":"1","w":500,"v":0.005},
{"s":"0","w":330,"v":0.72},{"s":"0","w":332,"v":0.69},{"s":"0","w":335,"v":0.675},{"s":"0","w":340,"v":0.65},{"s":"0","w":345,"v":0.62},{"s":"0","w":350,"v":0.585},{"s":"0","w":355,"v":0.55},{"s":"0","w":360,"v":0.51},{"s":"0","w":365,"v":0.47},{"s":"0","w":370,"v":0.42},{"s":"0","w":375,"v":0.37},{"s":"0","w":379,"v":0.33}
]
},
"vconcat": [
{
"spacing": 52,
"resolve": {"scale": {"color": "independent"}},
"hconcat": [
{
"width": 296, "height": 296,
"data": {"name": "a"},
"resolve": {"axis": {"x": "independent", "y": "independent"}},
"layer": [
{"mark": {"type": "line", "strokeWidth": 1},
"encoding": {
"x": {"field": "t", "type": "quantitative", "scale": {"domain": [0, 60], "nice": false}, "axis": {"orient": "bottom", "values": [0,10,20,30,40,50,60], "title": "Time (min)", "labelPadding": 12, "titlePadding": 7.5}},
"y": {"field": "v", "type": "quantitative", "scale": {"domain": [0, 100], "nice": false}, "axis": {"orient": "left", "values": [0,20,40,60,80,100], "title": "Scatter (500 nm)", "labelPadding": 10, "titlePadding": 9.5}},
"color": {"field": "s", "type": "nominal", "scale": {"domain": ["1 µM apoY220C", "1 µM Y220C"], "range": ["#d8262c", "#2626c2"]},
"legend": {"title": null, "orient": "none", "legendX": 0, "legendY": 0, "symbolType": "M -3.2 0 H 3.2", "symbolSize": 100, "symbolStrokeWidth": 1, "symbolOffset": 10.5, "labelOffset": 23, "labelFontSize": 9.5, "rowPadding": 4.7, "padding": 5, "strokeColor": "#555", "fillColor": "white",
"labelColor": {"expr": "datum.value == '1 µM Y220C' ? '#2626c2' : '#d8262c'"}}}
}},
{"mark": {"type": "line", "opacity": 0},
"encoding": {
"x": {"field": "t", "type": "quantitative", "scale": {"domain": [0, 60], "nice": false}, "axis": {"orient": "top", "values": [0,10,20,30,40,50,60], "labels": false, "title": "A", "titleX": -59, "titleY": 20, "titleAngle": 0, "titleAlign": "left", "titleBaseline": "alphabetic", "titleFontSize": 33}},
"y": {"field": "v", "type": "quantitative", "scale": {"domain": [0, 100], "nice": false}, "axis": {"orient": "right", "values": [0,20,40,60,80,100], "labels": false, "title": null}}
}}
]
},
{
"width": 292, "height": 294,
"resolve": {"axis": {"x": "independent", "y": "independent"}},
"layer": [
{"data": {"name": "bn"},
"mark": {"type": "line", "strokeWidth": 0.7, "opacity": 0.4},
"encoding": {
"x": {"field": "t", "type": "quantitative", "scale": {"domain": [0, 120], "nice": false}, "axis": {"orient": "bottom", "values": [0,20,40,60,80,100,120], "title": "Time (min)", "labelPadding": 12, "titlePadding": 7.5}},
"y": {"field": "v", "type": "quantitative", "scale": {"domain": [5, 15], "nice": false, "zero": false}, "axis": {"orient": "left", "values": [5,10,15], "title": "ThT fluorescence", "labelPadding": 14, "titlePadding": 19}},
"color": {"field": "s", "type": "nominal", "scale": {"domain": ["0.25 µM", "0.5 µM", "1.0 µM", "1.5 µM"], "range": ["#d42a2a", "#2222cc", "#2b6b2b", "#111111"]},
"legend": {"title": null, "orient": "none", "legendX": 0, "legendY": 5, "symbolType": "M -2.5 0 H 2.5", "symbolSize": 100, "symbolStrokeWidth": 1, "symbolOpacity": 1, "symbolOffset": 9.7, "labelOffset": 21.7, "labelFontSize": 9.5, "rowPadding": -1, "padding": 5, "strokeColor": "#555", "fillColor": "white",
"symbolStrokeColor": {"expr": "['#d42a2a','#2222cc','#2b6b2b','#555555'][indexof(['0.25 µM','0.5 µM','1.0 µM','1.5 µM'], datum.value)]"},
"labelColor": {"expr": "['#d42a2a','#2222cc','#2b6b2b','#333333'][indexof(['0.25 µM','0.5 µM','1.0 µM','1.5 µM'], datum.value)]"}}}
}},
{"data": {"name": "bf"},
"mark": {"type": "line", "strokeWidth": 1.2},
"encoding": {
"x": {"field": "t", "type": "quantitative", "scale": {"domain": [0, 120], "nice": false}, "axis": null},
"y": {"field": "v", "type": "quantitative", "scale": {"domain": [5, 15], "nice": false, "zero": false}, "axis": null},
"color": {"field": "s", "type": "nominal"}
}},
{"data": {"name": "bf"},
"mark": {"type": "line", "opacity": 0},
"encoding": {
"x": {"field": "t", "type": "quantitative", "axis": {"orient": "top", "values": [0,20,40,60,80,100,120], "labels": false, "title": "B", "titleX": -69, "titleY": 18, "titleAngle": 0, "titleAlign": "left", "titleBaseline": "alphabetic", "titleFontSize": 33}},
"y": {"field": "v", "type": "quantitative", "axis": {"orient": "right", "values": [5,10,15], "labels": false, "title": null}}
}}
]
}
]
},
{
"spacing": 9,
"resolve": {"scale": {"color": "independent"}},
"hconcat": [
{
"width": 341, "height": 282,
"resolve": {"scale": {"x": "independent", "y": "independent"}, "axis": {"x": "independent", "y": "independent"}},
"layer": [
{"data": {"name": "c"},
"mark": {"type": "line", "strokeWidth": 1},
"encoding": {
"x": {"field": "t", "type": "quantitative", "scale": {"domain": [0, 12], "nice": false}, "axis": {"orient": "bottom", "values": [0,2,4,6,8,10,12], "title": "Time (min)", "labelPadding": 15, "titlePadding": 9.5}},
"y": {"field": "v", "type": "quantitative", "scale": {"domain": [0, 30], "nice": false}, "axis": {"orient": "left", "values": [0,15,30], "title": "Fluorescence intensity 340 nm", "labelPadding": 15, "titlePadding": 13.7}},
"color": {"field": "s", "type": "nominal", "scale": {"domain": ["37 C", "33 C", "30 C", "28 C", "25 C"], "range": ["#d7423c", "#2424cc", "#2e6e2e", "#111111", "#e8357e"]},
"legend": {"title": null, "orient": "none", "legendX": 265, "legendY": 205.7, "symbolType": "M -3.2 0 H 3.2", "symbolSize": 100, "symbolStrokeWidth": 1, "symbolOffset": 14.2, "labelOffset": 27.4, "labelFontSize": 12, "rowPadding": 1.4, "padding": 4, "strokeColor": "#555", "fillColor": "white",
"labelColor": {"expr": "['#d7423c','#2424cc','#2e6e2e','#222222','#e8357e'][indexof(['37 C','33 C','30 C','28 C','25 C'], datum.value)]"}}}
}},
{"data": {"name": "c"},
"mark": {"type": "line", "opacity": 0},
"encoding": {
"x": {"field": "t", "type": "quantitative", "scale": {"domain": [0, 12], "nice": false}, "axis": {"orient": "top", "values": [0,2,4,6,8,10,12], "labels": false, "title": "C", "titleX": -60, "titleY": 12, "titleAngle": 0, "titleAlign": "left", "titleBaseline": "alphabetic", "titleFontSize": 33}},
"y": {"field": "v", "type": "quantitative", "scale": {"domain": [0, 30], "nice": false}, "axis": {"orient": "right", "values": [0,15,30], "labels": false, "title": null}}
}},
{"data": {"name": "cfr"},
"mark": {"type": "rect", "fill": "white", "stroke": "#333", "strokeWidth": 0.8},
"encoding": {
"x": {"field": "x0", "type": "quantitative", "scale": {"domain": [0, 0.8], "range": [120, 221], "nice": false}, "axis": null},
"x2": {"field": "x1"},
"y": {"field": "y0", "type": "quantitative", "scale": {"domain": [25, 27], "range": [253, 168], "nice": false, "zero": false}, "axis": null},
"y2": {"field": "y1"}
}},
{"data": {"name": "ci"},
"mark": {"type": "line", "strokeWidth": 0.9, "color": "#e06060"},
"encoding": {
"x": {"field": "t", "type": "quantitative", "scale": {"domain": [0, 0.8], "range": [120, 221], "nice": false}, "axis": {"orient": "bottom", "offset": -29, "values": [0,0.1,0.2,0.3,0.4,0.5,0.6,0.7,0.8], "format": "~g", "title": "Time (min)", "labelFontSize": 8.5, "titleFontSize": 8.5, "labelColor": "#444", "titleColor": "#444", "tickSize": -2, "labelPadding": 4, "titlePadding": 1}},
"y": {"field": "v", "type": "quantitative", "scale": {"domain": [25, 27], "range": [253, 168], "nice": false, "zero": false}, "axis": {"orient": "left", "offset": -120, "values": [25,26,27], "title": "Fluorescence 340 nm", "labelFontSize": 8.5, "titleFontSize": 8.5, "labelColor": "#444", "titleColor": "#444", "tickSize": -2, "labelPadding": 4, "titlePadding": 1}}
}}
]
},
{
"width": 286, "height": 287,
"view": {"stroke": "#777"},
"data": {"name": "d"},
"resolve": {"axis": {"x": "independent", "y": "independent"}},
"layer": [
{"mark": {"type": "line", "strokeWidth": 1},
"encoding": {
"x": {"field": "w", "type": "quantitative", "scale": {"domain": [300, 500], "nice": false}, "axis": {"orient": "bottom", "values": [300,350,400,450,500], "title": "Wavelength (nm)", "grid": true, "gridDash": [1, 2], "gridColor": "#666", "gridWidth": 0.8, "tickSize": 0, "labelPadding": 7, "titlePadding": 7}},
"y": {"field": "v", "type": "quantitative", "scale": {"domain": [0, 2], "nice": false}, "axis": {"orient": "left", "values": [0,1,2], "labelExpr": "datum.value == 0 ? '0' : datum.value + ' 10⁶'", "title": "Fluorescence intensity (cps)", "grid": true, "gridDash": [1, 2], "gridColor": "#666", "gridWidth": 0.8, "tickSize": 0, "labelPadding": 7, "titlePadding": 7.3}},
"color": {"field": "s", "type": "nominal", "scale": {"domain": ["31 min","11","7","6","5","4","3","2","1","0"], "range": ["#e05050","#6a6adf","#2a7a2a","#444444","#e0529c","#66dde8","#f2e33c","#f0876a","#45a6e6","#555555"]},
"legend": {"title": null, "orient": "none", "legendX": 205.3, "legendY": 7, "symbolType": "M -2.5 0 H 2.5", "symbolSize": 100, "symbolStrokeWidth": 1, "symbolOffset": 11.2, "labelOffset": 21.5, "labelFontSize": 8.5, "rowPadding": -0.7, "padding": 3.5, "strokeColor": "#333", "fillColor": "white",
"labelColor": {"expr": "['#e05050','#6a6adf','#2a7a2a','#444444','#e0529c','#66dde8','#f2e33c','#f0876a','#45a6e6','#555555'][indexof(['31 min','11','7','6','5','4','3','2','1','0'], datum.value)]"}}}
}},
{"mark": {"type": "line", "opacity": 0},
"encoding": {
"x": {"field": "w", "type": "quantitative", "scale": {"domain": [300, 500], "nice": false}, "axis": {"orient": "top", "ticks": false, "labels": false, "grid": false, "title": "D", "titleX": -73, "titleY": 16, "titleAngle": 0, "titleAlign": "left", "titleBaseline": "alphabetic", "titleFontSize": 33}}
}}
]
}
]
}
],
"config": {
"font": "Liberation Sans",
"view": {"stroke": "black", "strokeWidth": 1},
"axis": {"domain": false, "grid": false, "tickSize": -5, "tickColor": "black", "tickWidth": 1, "labelFont": "Liberation Sans", "labelFontSize": 14, "labelColor": "black", "labelFlush": false, "labelOverlap": false, "labelBound": false, "titleFont": "Liberation Sans", "titleFontSize": 18, "titleFontWeight": "normal", "titleColor": "black"},
"legend": {"labelFont": "Liberation Sans"}
}
}
